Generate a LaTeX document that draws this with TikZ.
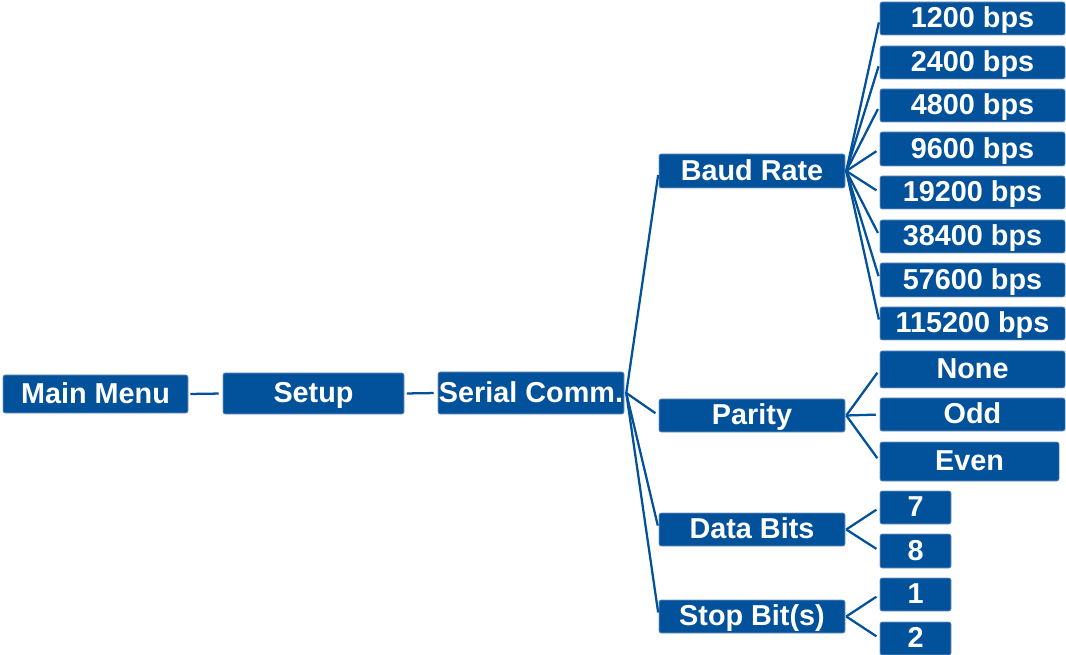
\documentclass[tikz,border=0pt]{standalone}
\usepackage{fontspec}
\setmainfont{Liberation Sans}
\usetikzlibrary{calc}
\definecolor{mblue}{RGB}{2,81,155}
\definecolor{mborder}{RGB}{120,150,195}
\tikzset{
  box/.style={fill=mblue, draw=mborder, line width=0.4pt, rounded corners=1.5pt,
    inner sep=0pt, text=white, text height=16pt, text depth=2.2pt,
    font=\fontsize{21.6pt}{24pt}\selectfont\bfseries},
  link/.style={draw=mblue, line width=1.7pt},
}
\begin{document}
\begin{tikzpicture}[x=0.75pt,y=-0.75pt]
\useasboundingbox (0,0) rectangle (1066,655);
% first level
\node[box, minimum width=138.75pt, minimum height=28.5pt] (main) at (95.5,394) {Main Menu};
\node[box, minimum width=135.75pt, minimum height=30.75pt] (setup) at (313.5,393.5) {Setup};
\node[box, minimum width=139.5pt, minimum height=31.5pt] (serial) at (531,393) {Serial Comm.};
% second level
\node[box, minimum width=139.5pt, minimum height=25.5pt] (baud) at (752,171) {Baud Rate};
\node[box, minimum width=139.5pt, minimum height=24.75pt] (parity) at (752,415.5) {Parity};
\node[box, minimum width=139.5pt, minimum height=24.75pt] (data) at (752,529.5) {Data Bits};
\node[box, minimum width=139.5pt, minimum height=24.75pt] (stop) at (752,616.5) {Stop Bit(s)};
% baud rates
\node[box, minimum width=138.75pt, minimum height=24.75pt] (b1) at (972.5,18.5) {1200 bps};
\node[box, minimum width=138.75pt, minimum height=24.75pt] (b2) at (972.5,62.5) {2400 bps};
\node[box, minimum width=138.75pt, minimum height=24.75pt] (b3) at (972.5,105.5) {4800 bps};
\node[box, minimum width=138.75pt, minimum height=25.5pt] (b4) at (972.5,149) {9600 bps};
\node[box, minimum width=138.75pt, minimum height=24.75pt] (b5) at (972.5,192.5) {19200 bps};
\node[box, minimum width=138.75pt, minimum height=24.75pt] (b6) at (972.5,236.5) {38400 bps};
\node[box, minimum width=138.75pt, minimum height=25.5pt] (b7) at (972.5,280) {57600 bps};
\node[box, minimum width=138.75pt, minimum height=24.75pt] (b8) at (972.5,323.5) {115200 bps};
% parity
\node[box, minimum width=138.75pt, minimum height=27.75pt] (none) at (972.5,369.5) {None};
\node[box, minimum width=138.75pt, minimum height=24.75pt] (odd) at (972.5,414.5) {Odd};
\node[box, minimum width=134.25pt, minimum height=29.25pt] (even) at (969.5,461.5) {Even};
% data bits
\node[box, minimum width=53.25pt, minimum height=24.75pt] (d7) at (915.5,507.5) {7};
\node[box, minimum width=53.25pt, minimum height=25.5pt] (d8) at (915.5,551) {8};
% stop bits
\node[box, minimum width=53.25pt, minimum height=24.75pt] (s1) at (915.5,594.5) {1};
\node[box, minimum width=53.25pt, minimum height=24.75pt] (s2) at (915.5,638.5) {2};
% connectors
\draw[link, shorten <=1.5pt, shorten >=3pt] (main.east) -- (setup.west);
\draw[link, shorten <=2pt, shorten >=3pt] (setup.east) -- (serial.west);
\foreach \c in {baud,parity,data,stop}
  \draw[link, shorten >=3pt] ($(serial.east)+(2,0)$) -- (\c.west);
\foreach \c in {b1,b2,b3,b4,b5,b6,b7,b8}
  \draw[link, shorten >=3pt] ($(baud.east)+(1,0)$) -- (\c.west);
\foreach \c in {none,odd,even}
  \draw[link, shorten >=3pt] ($(parity.east)+(1,0)$) -- (\c.west);
\foreach \c in {d7,d8}
  \draw[link, shorten >=3pt] ($(data.east)+(1,0)$) -- (\c.west);
\foreach \c in {s1,s2}
  \draw[link, shorten >=3pt] ($(stop.east)+(1,0)$) -- (\c.west);
\end{tikzpicture}
\end{document}
